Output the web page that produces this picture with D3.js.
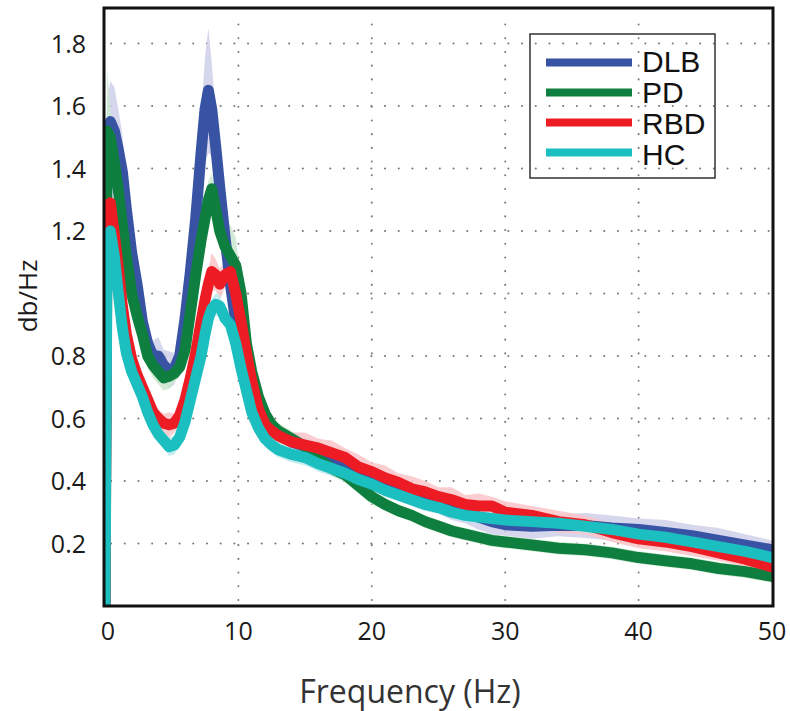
<!DOCTYPE html>
<html>
<head>
<meta charset="utf-8">
<script src="https://cdn.jsdelivr.net/npm/d3@7"></script>
<style>
  html, body { margin: 0; padding: 0; background: #fff; }
  svg { display: block; }
</style>
</head>
<body>
<div id="container"></div>
<script>
const { d3 } = window;

// frequency grid (Hz)
const freqs = [0, 0.15, 0.4, 0.7, 1.0, 1.3, 1.6, 2.0, 2.4, 2.8, 3.2, 3.6, 4.0, 4.4, 4.8, 5.2, 5.6, 6.0, 6.4, 6.8,
  7.2, 7.5, 7.75, 8.0, 8.3, 8.6, 9.0, 9.4, 9.8, 10.2, 10.6, 11.0, 11.5, 12.0, 12.5, 13.0,
  14, 15, 16, 17, 18, 19, 20, 21, 22, 23, 24, 25, 26, 27, 28, 29, 30, 32, 34, 36, 38, 40, 42, 44, 46, 48, 50];

const groups = ['DLB', 'PD', 'RBD', 'HC'];

const dlb = [0, 1.50, 1.55, 1.52, 1.46, 1.39, 1.27, 1.13, 1.03, 0.91, 0.84, 0.80, 0.80, 0.77, 0.755, 0.76, 0.80, 0.92, 1.07, 1.24,
  1.45, 1.59, 1.65, 1.59, 1.47, 1.34, 1.18, 1.03, 0.91, 0.82, 0.76, 0.71, 0.66, 0.61, 0.575, 0.55,
  0.525, 0.51, 0.495, 0.48, 0.455, 0.43, 0.405, 0.385, 0.37, 0.355, 0.345, 0.33, 0.315, 0.30, 0.285, 0.27, 0.26,
  0.255, 0.258, 0.258, 0.25, 0.245, 0.235, 0.225, 0.21, 0.195, 0.18];
const pd = [0, 1.52, 1.50, 1.42, 1.33, 1.22, 1.12, 1.00, 0.93, 0.87, 0.80, 0.77, 0.75, 0.73, 0.735, 0.745, 0.765, 0.82, 0.94, 1.06,
  1.17, 1.24, 1.30, 1.335, 1.27, 1.20, 1.15, 1.12, 1.09, 1.00, 0.84, 0.75, 0.67, 0.615, 0.58, 0.56,
  0.535, 0.51, 0.47, 0.44, 0.42, 0.385, 0.35, 0.325, 0.305, 0.29, 0.27, 0.255, 0.24, 0.23, 0.22, 0.21, 0.205,
  0.195, 0.185, 0.18, 0.17, 0.155, 0.145, 0.135, 0.12, 0.11, 0.095];
const rbd = [0, 1.20, 1.29, 1.19, 1.08, 0.96, 0.87, 0.79, 0.74, 0.70, 0.66, 0.62, 0.60, 0.585, 0.58, 0.585, 0.61, 0.66, 0.73, 0.81,
  0.91, 0.98, 1.03, 1.07, 1.06, 1.03, 1.06, 1.07, 1.00, 0.91, 0.81, 0.72, 0.63, 0.58, 0.56, 0.545,
  0.525, 0.515, 0.505, 0.49, 0.475, 0.445, 0.43, 0.41, 0.395, 0.375, 0.365, 0.35, 0.34, 0.325, 0.32, 0.32, 0.30,
  0.29, 0.27, 0.26, 0.235, 0.215, 0.205, 0.19, 0.17, 0.15, 0.125];
const hc = [0, 1.10, 1.20, 1.12, 1.00, 0.89, 0.81, 0.75, 0.71, 0.67, 0.62, 0.58, 0.55, 0.53, 0.51, 0.515, 0.54, 0.59, 0.66, 0.73,
  0.80, 0.87, 0.92, 0.95, 0.965, 0.96, 0.92, 0.90, 0.84, 0.76, 0.69, 0.62, 0.57, 0.535, 0.515, 0.50,
  0.485, 0.475, 0.455, 0.44, 0.425, 0.405, 0.39, 0.37, 0.355, 0.34, 0.325, 0.315, 0.30, 0.29, 0.285, 0.28, 0.275,
  0.27, 0.265, 0.255, 0.245, 0.23, 0.22, 0.205, 0.19, 0.175, 0.155];

// shaded error (half width)
const dlbErr = [0, 0.12, 0.13, 0.14, 0.13, 0.12, 0.08, 0.05, 0.04, 0.04, 0.04, 0.05, 0.06, 0.05, 0.06, 0.05, 0.04, 0.05, 0.06, 0.08,
  0.12, 0.17, 0.20, 0.15, 0.10, 0.07, 0.05, 0.04, 0.03, 0.03, 0.03, 0.03, 0.03, 0.03, 0.03, 0.03,
  0.03, 0.03, 0.03, 0.035, 0.03, 0.035, 0.03, 0.035, 0.03, 0.035, 0.04, 0.035, 0.04, 0.035, 0.04, 0.04, 0.035,
  0.04, 0.035, 0.04, 0.04, 0.035, 0.04, 0.035, 0.04, 0.035, 0.03];
const pdErr = [0, 0.20, 0.10, 0.05, 0.04, 0.04, 0.04, 0.03, 0.03, 0.03, 0.03, 0.04, 0.04, 0.04, 0.04, 0.03, 0.03, 0.03, 0.03, 0.04,
  0.05, 0.06, 0.06, 0.05, 0.05, 0.05, 0.07, 0.10, 0.09, 0.04, 0.03, 0.03, 0.03, 0.03, 0.03, 0.025,
  0.025, 0.025, 0.025, 0.025, 0.025, 0.025, 0.025, 0.02, 0.02, 0.02, 0.02, 0.02, 0.02, 0.02, 0.02, 0.02, 0.02,
  0.02, 0.02, 0.02, 0.02, 0.02, 0.02, 0.02, 0.02, 0.02, 0.02];
const rbdErr = [0, 0.04, 0.05, 0.04, 0.03, 0.03, 0.03, 0.03, 0.03, 0.03, 0.03, 0.03, 0.03, 0.03, 0.04, 0.03, 0.03, 0.03, 0.03, 0.03,
  0.04, 0.04, 0.05, 0.06, 0.05, 0.05, 0.04, 0.04, 0.04, 0.03, 0.03, 0.03, 0.03, 0.03, 0.03, 0.03,
  0.03, 0.04, 0.03, 0.04, 0.03, 0.04, 0.03, 0.04, 0.03, 0.04, 0.035, 0.03, 0.04, 0.03, 0.04, 0.03, 0.035,
  0.03, 0.035, 0.03, 0.03, 0.03, 0.03, 0.03, 0.025, 0.025, 0.025];
const hcErr = [0, 0.03, 0.03, 0.03, 0.025, 0.025, 0.025, 0.025, 0.025, 0.025, 0.025, 0.025, 0.025, 0.025, 0.03, 0.03, 0.025, 0.025, 0.025, 0.025,
  0.025, 0.03, 0.03, 0.035, 0.035, 0.035, 0.03, 0.03, 0.025, 0.025, 0.025, 0.025, 0.025, 0.025, 0.025, 0.025,
  0.025, 0.025, 0.025, 0.025, 0.025, 0.02, 0.02, 0.02, 0.02, 0.02, 0.02, 0.02, 0.02, 0.02, 0.02, 0.02, 0.02,
  0.02, 0.02, 0.02, 0.02, 0.02, 0.02, 0.02, 0.02, 0.02, 0.02];

const xTicks = [0, 10, 20, 30, 40, 50];
const yTicks = [0.2, 0.4, 0.6, 0.8, 1.0, 1.2, 1.4, 1.6, 1.8];
const yLabelled = ['0.2', '0.4', '0.6', '0.8', '', '1.2', '1.4', '1.6', '1.8'];

const COLORS = ['#3853a4', '#0f7f3f', '#ed1c24', '#1bbfc0'];
const BANDS = ['#cfcfea', '#cbe7cf', '#f9c6c8', '#bfe9ec'];

const width = 790;
const height = 711;

const x = d3.scaleLinear().domain([0, 50]).range([105, 772]);
const y = d3.scaleLinear().domain([0, 1.9136]).range([606, 8]);

const svg = d3.select('#container')
  .append('svg')
  .attr('width', width)
  .attr('height', height)
  .style('font-family', '"Open Sans", "DejaVu Sans", sans-serif');

svg.append('defs').append('clipPath')
  .attr('id', 'plot')
  .append('rect')
  .attr('x', 104)
  .attr('y', 8)
  .attr('width', 669)
  .attr('height', 598);

// dotted grid
const grid = svg.append('g').attr('stroke', '#7a7a7a').attr('stroke-width', 2)
  .attr('stroke-dasharray', '0.1 13.6').attr('stroke-linecap', 'round');

grid.selectAll('line.h')
  .data(yTicks)
  .join('line')
  .attr('class', 'h')
  .attr('x1', x(0) + 6)
  .attr('x2', x(50))
  .attr('y1', (d) => y(d))
  .attr('y2', (d) => y(d));

grid.selectAll('line.v')
  .data(xTicks.slice(1, -1))
  .join('line')
  .attr('class', 'v')
  .attr('x1', (d) => x(d))
  .attr('x2', (d) => x(d))
  .attr('y1', y(0) - 6)
  .attr('y2', 12);

const series = [dlb, pd, rbd, hc];
const errs = [dlbErr, pdErr, rbdErr, hcErr];

const plot = svg.append('g').attr('clip-path', 'url(#plot)');

const area = (vals, err) => d3.area()
  .x((d, i) => x(freqs[i]))
  .y0((d, i) => y(Math.max(0, vals[i] - err[i])))
  .y1((d, i) => y(vals[i] + err[i]))(vals);

const line = d3.line()
  .x((d, i) => x(freqs[i]))
  .y((d) => y(d));

series.forEach((vals, k) => {
  plot.append('path')
    .attr('d', area(vals, errs[k]))
    .attr('fill', BANDS[k])
    .attr('opacity', 0.85);
});

series.forEach((vals, k) => {
  plot.append('path')
    .attr('d', line(vals))
    .attr('fill', 'none')
    .attr('stroke', COLORS[k])
    .attr('stroke-width', 11)
    .attr('stroke-linejoin', 'round')
    .attr('stroke-linecap', 'round');
});

// frame
svg.append('rect')
  .attr('x', 104)
  .attr('y', 8)
  .attr('width', 669)
  .attr('height', 598)
  .attr('fill', 'none')
  .attr('stroke', '#111')
  .attr('stroke-width', 3);

// tick labels
svg.append('g')
  .selectAll('text')
  .data(yTicks)
  .join('text')
  .attr('x', 86)
  .attr('y', (d) => y(d) + 9)
  .attr('text-anchor', 'end')
  .attr('font-size', 25)
  .attr('fill', '#1a1a1a')
  .text((d, i) => yLabelled[i]);

svg.append('g')
  .selectAll('text')
  .data(xTicks)
  .join('text')
  .attr('x', (d) => x(d) + (d === 0 ? 3 : 0))
  .attr('y', 640)
  .attr('text-anchor', 'middle')
  .attr('font-size', 25)
  .attr('fill', '#1a1a1a')
  .text((d) => d);

svg.append('text')
  .attr('x', 410)
  .attr('y', 703)
  .attr('text-anchor', 'middle')
  .attr('font-size', 32)
  .attr('fill', '#333')
  .text('Frequency (Hz)');

svg.append('text')
  .attr('transform', 'translate(37, 296) rotate(-90)')
  .attr('text-anchor', 'middle')
  .attr('font-size', 26)
  .attr('fill', '#1a1a1a')
  .text('db/Hz');

// legend
const legend = svg.append('g');
legend.append('rect')
  .attr('x', 530)
  .attr('y', 34)
  .attr('width', 185)
  .attr('height', 144)
  .attr('fill', 'none')
  .attr('stroke', '#333')
  .attr('stroke-width', 1.5);

const items = legend.selectAll('g.item')
  .data(groups)
  .join('g')
  .attr('class', 'item');

items.append('line')
  .attr('x1', 546)
  .attr('x2', 632)
  .attr('y1', (d, i) => 62.5 + i * 30)
  .attr('y2', (d, i) => 62.5 + i * 30)
  .attr('stroke', (d, i) => COLORS[i])
  .attr('stroke-width', 8);

items.append('text')
  .attr('x', 642)
  .attr('y', (d, i) => 72 + i * 31)
  .attr('font-family', '"Liberation Sans", Arial, sans-serif')
  .attr('font-size', 30)
  .attr('fill', '#111')
  .text((d) => d);
</script>
</body>
</html>
